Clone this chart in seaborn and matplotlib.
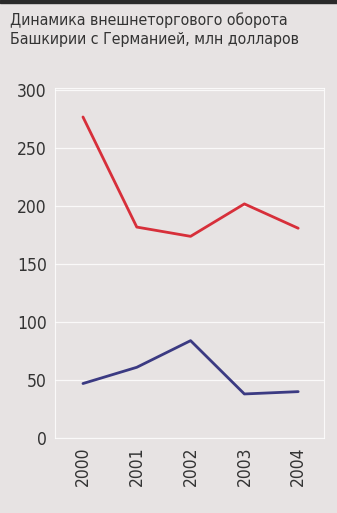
import matplotlib
matplotlib.use("Agg")
import matplotlib.pyplot as plt
import seaborn as sns
import pandas as pd

years = ["2000", "2001", "2002", "2003", "2004"]
red_values = [277, 182, 174, 202, 181]
blue_values = [47, 61, 84, 38, 40]
y_ticks = [0, 50, 100, 150, 200, 250, 300]
title = "Динамика внешнеторгового оборота\nБашкирии с Германией, млн долларов"

df = pd.DataFrame({
    "x": list(range(len(years))) * 2,
    "value": red_values + blue_values,
    "series": ["red"] * len(years) + ["blue"] * len(years),
})

sns.set_style("white")
plt.rcParams["font.family"] = ["DejaVu Sans"]

bg = "#e7e3e3"
W, H = 337, 513
fig = plt.figure(figsize=(W / 100, H / 100), dpi=100, facecolor=bg)
ax = fig.add_axes([55 / W, 1 - 438 / H, (324 - 55) / W, (438 - 88) / H])
ax.set_facecolor(bg)

sns.lineplot(data=df, x="x", y="value", hue="series",
             palette={"red": "#d72f3a", "blue": "#3b3a82"},
             linewidth=2.0, legend=False, ax=ax)

ax.set_xlim(-0.52, 4.48)
ax.set_ylim(0, 302)
ax.set_yticks(y_ticks)
ax.set_yticklabels([str(v) for v in y_ticks], fontsize=12.5, color="#333333",
                   fontstretch="condensed")
ax.set_xticks(range(len(years)))
ax.set_xticklabels(years, rotation=90, fontsize=12.5, color="#333333",
                   fontstretch="condensed")
ax.tick_params(axis="both", length=0, pad=6)
ax.set_xlabel("")
ax.set_ylabel("")
ax.grid(axis="y", color="white", linewidth=0.9, alpha=0.8)
for s in ax.spines.values():
    s.set_color("white")
    s.set_linewidth(0.8)
    s.set_alpha(0.8)

fig.text(10 / W, 1 - 12 / H, title, ha="left", va="top", fontsize=11.4,
         color="#333333", linespacing=1.36, fontstretch="condensed")
fig.patches.append(plt.Rectangle((0, 1 - 3 / H), 1, 3 / H,
                                 transform=fig.transFigure, color="#2a2a2a"))

fig.savefig("out.png", dpi=100, facecolor=bg)
